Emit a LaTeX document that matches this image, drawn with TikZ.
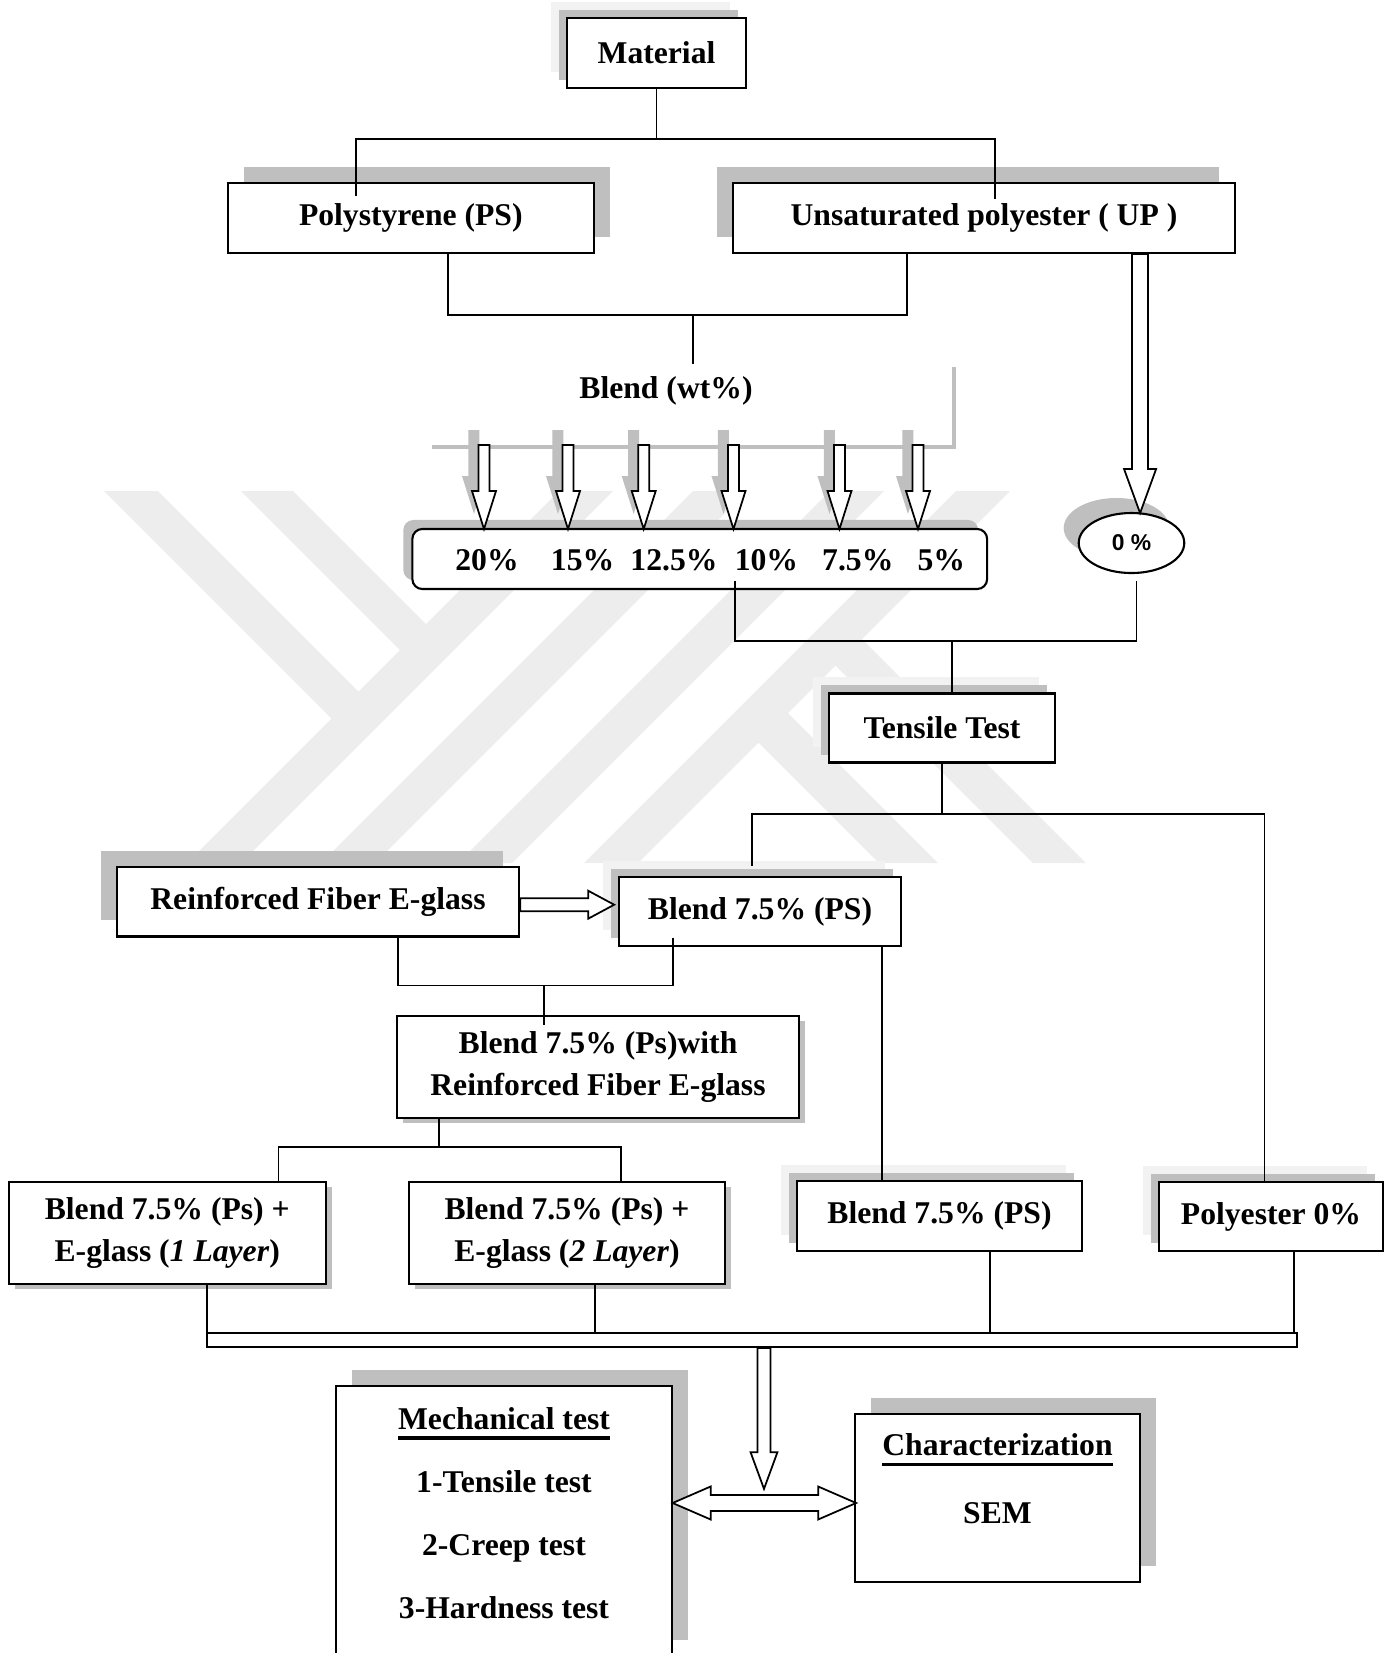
\documentclass[tikz,border=0pt]{standalone}
\usepackage{fontspec}
\setmainfont{Liberation Serif}
\newfontfamily\zerofont{Liberation Sans}
\usetikzlibrary{shapes.geometric,shadows}
\newsavebox\ulbox
\newcommand{\thickul}[1]{\sbox\ulbox{#1}\mbox{\rlap{\rule[-2.9pt]{\wd\ulbox}{0.9pt}}\usebox\ulbox}}

\tikzset{
  box/.style={draw, line width=0.6pt, fill=white, align=center, font=\bfseries\fontsize{9}{12}\selectfont},
  txt/.style={align=center, font=\bfseries\fontsize{9}{12}\selectfont},
  link/.style={line width=0.45pt},
  fatarr/.style={draw, line width=0.5pt, fill=white},
  wmark/.style={fill=black!7},
  shNW/.style={general shadow={fill=gray!50, shadow xshift=-#1, shadow yshift=#1}},
  shNE/.style={general shadow={fill=gray!50, shadow xshift=#1, shadow yshift=#1}},
  shSE/.style={general shadow={fill=gray!50, shadow xshift=0.06cm, shadow yshift=-0.05cm}},
  shTwo/.style={general shadow={fill=black!5, shadow xshift=-0.16cm, shadow yshift=0.16cm},
                general shadow={fill=gray!50, shadow xshift=-0.08cm, shadow yshift=0.08cm}}
}

\begin{document}
\begin{tikzpicture}[x=0.01cm, y=-0.01cm]
    \useasboundingbox (0,0) rectangle (1389,1653);

    % Watermark stripes
    \foreach \l in {1050,1184,1321,1447}
        \fill[wmark] (\l-491,491) -- (\l-437,491) -- (\l-809,863) -- (\l-863,863) -- cycle;
    \fill[wmark] (104,491) -- (158,491) -- (363.5,696.5) -- (336.5,723.5) -- cycle;
    \fill[wmark] (241,491) -- (293,491) -- (431,629) -- (405,655) -- cycle;
    \fill[wmark] (755.5,739.5) -- (785,710) -- (938,863) -- (879,863) -- cycle;
    \fill[wmark] (832.5,662.5) -- (859,636) -- (1086,863) -- (1033,863) -- cycle;

    % Materials
    \node[box, shTwo, minimum width=1.79cm, minimum height=0.7cm] (mat) at (656.5,53) {Material};
    \node[box, shNE=0.16cm, minimum width=3.655cm, minimum height=0.7cm] (ps) at (410.8,218) {Polystyrene (PS)};
    \node[box, shNW=0.16cm, minimum width=5.02cm, minimum height=0.7cm] (up) at (984,218) {Unsaturated polyester ( UP )};
    \node[txt] (blend) at (666,391) {Blend (wt\%)};

    % Blend ratios
    \draw[gray!50, line width=1.2pt] (954,367) |- (432,447);
    \node[box, shNW=0.09cm, rounded corners=0.1cm, minimum width=5.745cm, minimum height=0.6cm] (pct) at (699.75,559) {};
    \foreach \v/\x [count=\i] in {20/487,15/582.6,12.5/674,10/766.4,7.5/857.8,5/941.4}
        \node[txt] (pv\i) at (\x,560) {\v\%};
    \foreach \ax in {484,568,643.7,733.5,839.5,918} {
        \fill[gray!50, xshift=-0.1cm, yshift=0.15cm] (\ax,445) ++(-5.5,0) -- ++(0,46) -- ++(-6.5,0) -- ++(12,38) -- ++(12,-38) -- ++(-6.5,0) -- ++(0,-46) -- cycle;
        \draw[fatarr] (\ax,445) ++(-5.5,0) -- ++(0,46) -- ++(-6.5,0) -- ++(12,38) -- ++(12,-38) -- ++(-6.5,0) -- ++(0,-46) -- cycle;
    }
    \node[draw, line width=0.6pt, ellipse, fill=white, shNW=0.15cm, minimum width=1.055cm, minimum height=0.6cm,
          font=\zerofont\bfseries\fontsize{6.5}{8}\selectfont] (zero) at (1131.5,543) {0 \%};

    % Tests
    \node[box, shTwo, minimum width=2.26cm, minimum height=0.69cm] (tens) at (942,728) {Tensile Test};
    \node[box, shNW=0.16cm, minimum width=4.02cm, minimum height=0.695cm] (rfe) at (318,901.7) {Reinforced Fiber E-glass};
    \node[box, shTwo, minimum width=2.81cm, minimum height=0.69cm] (bps1) at (760,911.5) {Blend 7.5\% (PS)};
    \node[box, shSE, minimum width=4.02cm, minimum height=1.02cm] (bwith) at (598,1067) {Blend 7.5\% (Ps)with\\Reinforced Fiber E-glass};
    \node[box, shSE, minimum width=3.165cm, minimum height=1.02cm] (bl1) at (167.25,1233) {Blend 7.5\% (Ps) +\\E-glass (\textit{1 Layer})};
    \node[box, shSE, minimum width=3.16cm, minimum height=1.02cm] (bl2) at (567,1233) {Blend 7.5\% (Ps) +\\E-glass (\textit{2 Layer})};
    \node[box, shTwo, minimum width=2.85cm, minimum height=0.7cm] (bps2) at (939.5,1216) {Blend 7.5\% (PS)};
    \node[box, shTwo, minimum width=2.24cm, minimum height=0.69cm] (poly) at (1271,1216.5) {Polyester 0\%};
    \node[draw, line width=0.5pt, fill=white, inner sep=0pt, minimum width=10.9cm, minimum height=0.14cm] (bus) at (752,1340) {};

    % Results
    \node[box, shNE=0.16cm, minimum width=3.35cm, minimum height=2.7cm] (mech) at (504,1521) {};
    \node[txt, font=\bfseries\fontsize{9}{17.9}\selectfont] (mechtxt) at (504,1513)
        {\thickul{Mechanical test}\\1-Tensile test\\2-Creep test\\3-Hardness test};
    \node[box, shNE=0.16cm, minimum width=2.85cm, minimum height=1.68cm] (char) at (997.5,1498) {};
    \node[txt, font=\bfseries\fontsize{9}{19.4}\selectfont] (chartxt) at (997.5,1479)
        {\thickul{Characterization}\\SEM};

    % Connectors
    \draw[link] (mat.south) -- ++(0,50) coordinate (j1);
    \draw[link] ([xshift=-0.55cm,yshift=-0.14cm]ps.north) |- (j1) -| ([xshift=0.11cm,yshift=-0.17cm]up.north);
    \coordinate (j2) at (693,315);
    \draw[link] ([xshift=0.37cm]ps.south) |- (j2) -| ([xshift=-0.77cm]up.south);
    \draw[link] (j2) -- (j2 |- blend.north);
    \draw[fatarr] ([xshift=1.56cm]up.south) ++(-8,0) -- ++(0,215) -- ++(-8,0) -- ++(16,44) -- ++(16,-44) -- ++(-8,0) -- ++(0,-215) -- cycle;

    \coordinate (j3) at (952,641);
    \draw[link] ([xshift=0.35cm,yshift=0.09cm]pct.south) |- (j3) -| ([xshift=0.05cm,yshift=-0.07cm]zero.south);
    \draw[link] (j3) -- (j3 |- tens.north);
    \draw[link] (tens.south) -- ++(0,50.5) coordinate (j4);
    \draw[link] ([xshift=-0.08cm,yshift=0.1cm]bps1.north) |- (j4) -| ([xshift=-0.065cm]poly.north);

    \draw[fatarr] ([yshift=-0.03cm]rfe.east) ++(0,-6.5) -- ++(68,0) -- ++(0,-7.5) -- ++(26,14) -- ++(-26,14) -- ++(0,-7.5) -- ++(-68,0) -- cycle;
    \coordinate (j5) at (544,985.5);
    \draw[link] ([xshift=0.8cm]rfe.south) |- (j5) -| ([xshift=-0.87cm,yshift=0.09cm]bps1.south);
    \draw[link] (j5) -- ([xshift=-0.54cm,yshift=-0.1cm]bwith.north);
    \draw[link] ([xshift=-1.59cm]bwith.south) -- ++(0,28) coordinate (j6);
    \draw[link] ([xshift=1.11cm]bl1.north) |- (j6) -| ([xshift=0.54cm]bl2.north);
    \draw[link] ([xshift=1.22cm]bps1.south) -- ([xshift=1.22cm]bps1.south |- bps2.north);

    \draw[link] ([xshift=0.4cm]bl1.south) -- ([xshift=0.4cm]bl1.south |- bus.north);
    \draw[link] ([xshift=0.28cm]bl2.south) -- ([xshift=0.28cm]bl2.south |- bus.north);
    \draw[link] ([xshift=0.505cm]bps2.south) -- ([xshift=0.505cm]bps2.south |- bus.north);
    \draw[link] ([xshift=0.23cm]poly.south) -- ([xshift=0.23cm]poly.south |- bus.north);
    \draw[fatarr] ([xshift=0.12cm]bus.south) ++(-6.6,0) -- ++(0,104.4) -- ++(-6.8,0) -- ++(13.4,36.6) -- ++(13.4,-36.6) -- ++(-6.8,0) -- ++(0,-104.4) -- cycle;
    \draw[fatarr] ([yshift=0.18cm]mech.east) -- ++(38,-16.5) -- ++(0,8.5) -- ++(107.5,0) -- ++(0,-8.5) -- ++(38,16.5) -- ++(-38,16.5) -- ++(0,-8.5) -- ++(-107.5,0) -- ++(0,8.5) -- cycle;
\end{tikzpicture}
\end{document}
